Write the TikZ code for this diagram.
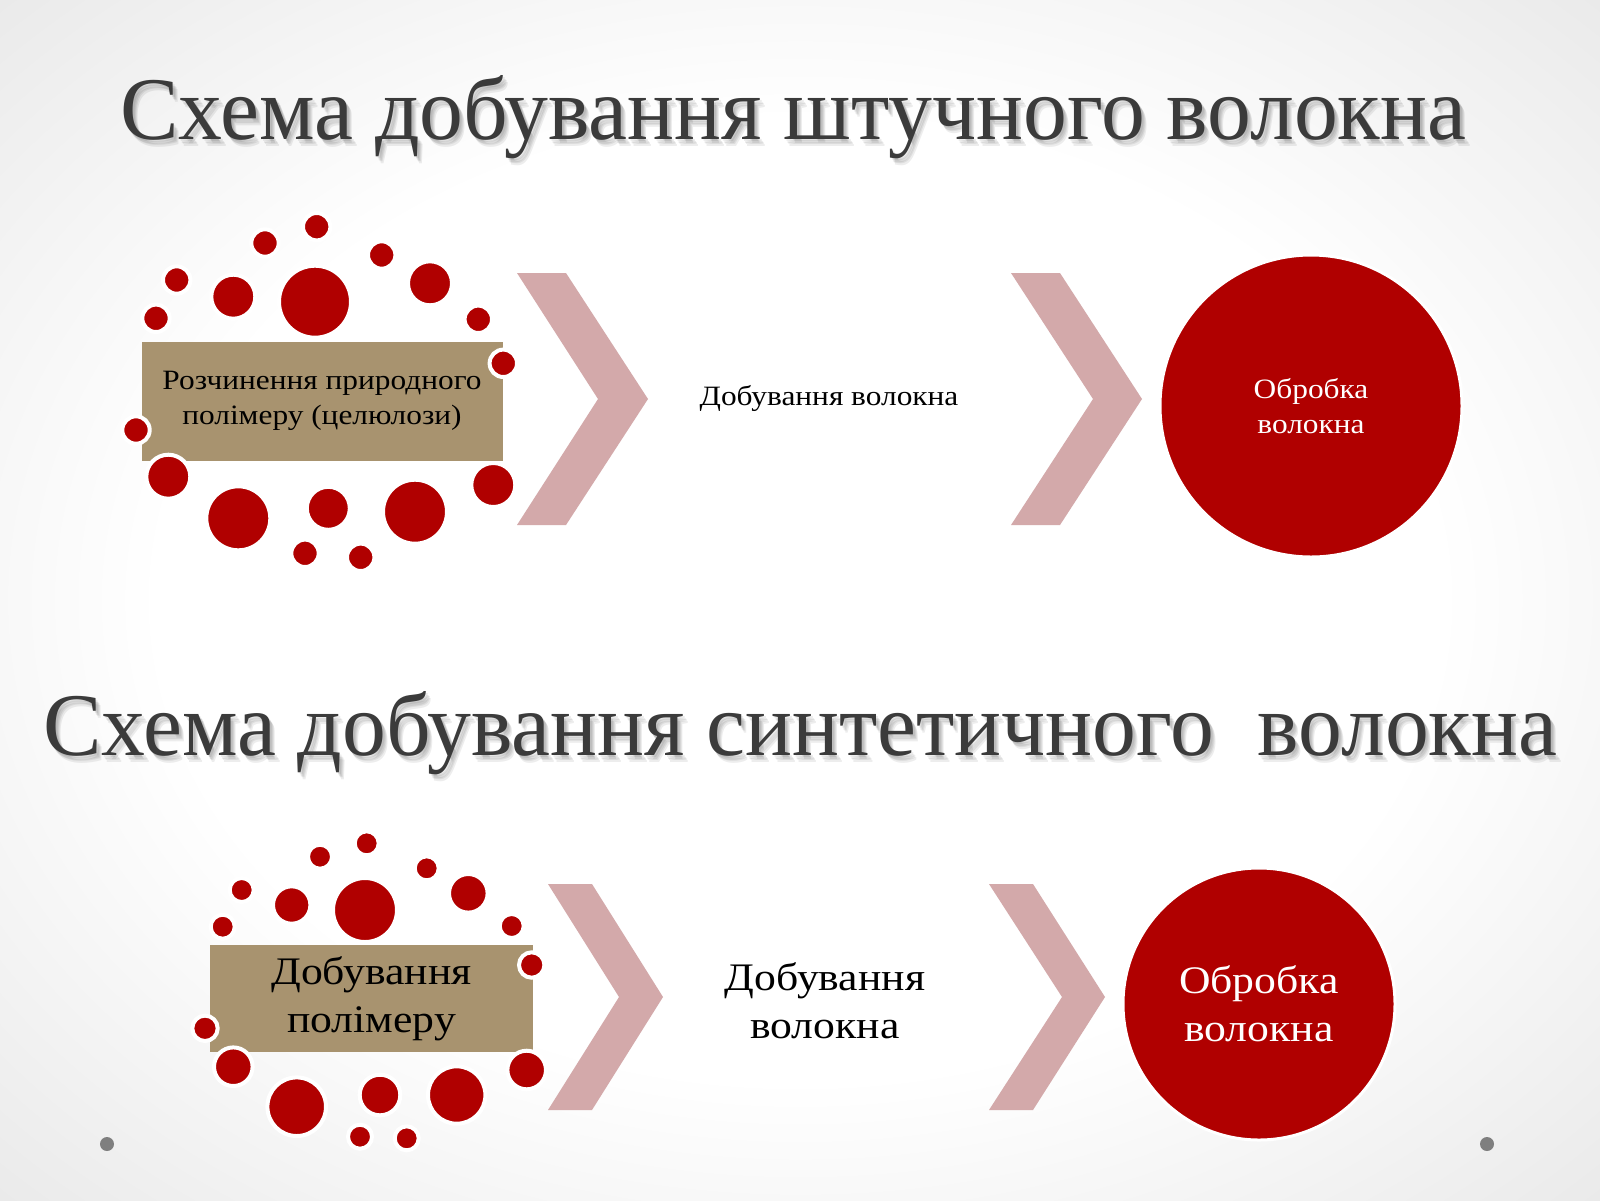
\documentclass[tikz,border=0pt]{standalone}
\usepackage{fontspec}
\usepackage{graphicx}
\setmainfont{Liberation Serif}
\newfontfamily\bodyfont[FakeStretch=1.12]{Liberation Serif}
\newfontfamily\titlefont{Liberation Serif}
\definecolor{dred}{HTML}{B00000}
\definecolor{chevc}{HTML}{D3A9AA}
\definecolor{boxc}{HTML}{A8936F}
\definecolor{titlec}{HTML}{3B3B3B}
\definecolor{bggray}{HTML}{D6D6D6}
\definecolor{dotgray}{HTML}{7F7F7F}
\pgfdeclareradialshading{bgshade}{\pgfpoint{0bp}{0bp}}{color(0bp)=(white); color(20bp)=(white); color(50bp)=(bggray)}
\newcommand{\titleone}{\resizebox{1346pt}{64pt}{Схема добування штучного волокна}}
\newcommand{\titletwo}{\resizebox{1513pt}{64pt}{Схема добування синтетичного\ \ волокна}}
\tikzset{
  dotc/.style={circle, fill=dred, draw=white, line width=4pt, inner sep=0pt},
  chev/.style={fill=chevc},
  titlet/.style={anchor=base west, inner sep=0pt, text=titlec, font=\titlefont},
  tshadow/.style={anchor=base west, inner sep=0pt, text=black, opacity=0.07, font=\titlefont},
  boxn/.style={fill=boxc, inner sep=0pt, align=center},
  bigc/.style={circle, fill=dred, draw=white, line width=3pt, inner sep=0pt, text=white, align=center},
  plaint/.style={inner sep=0pt, align=center},
  smallf/.style={font=\bodyfont\fontsize{28}{35}\selectfont},
  largef/.style={font=\bodyfont\fontsize{39}{48}\selectfont},
}
\begin{document}
\begin{tikzpicture}[x=1pt,y=-1pt]
\useasboundingbox (0,0) rectangle (1600,1200);
\shade[shading=bgshade] (0,0) rectangle (1600,1200);

% ---- titles (soft shadow made of faint copies)
\foreach \dx/\dy in {2/2, 3/4, 4/5, 5/7}{
  \node[tshadow] at (120+\dx,139+\dy) {\titleone};
  \node[tshadow] at (43+\dx,755+\dy) {\titletwo};
}
\node[titlet] (title1) at (120,139) {\titleone};
\node[titlet] (title2) at (43,755) {\titletwo};

% ---- top row
\node[boxn, smallf, minimum width=361pt, minimum height=119pt] (box1) at (322,401)
  {Розчинення природного\\полімеру (целюлози)};
\foreach \x/\y/\r [count=\i] in {316.7/226.7/11.7, 265/243/11.7, 381.7/255/11.7, 176.7/280/11.7,
  233.3/296.7/20, 315/301.7/34, 430/283.3/20, 156/318.3/11.7, 478.3/319.3/11.7, 503.3/363.3/11.7,
  136/430/11.7, 168.3/476.7/20, 238.3/518.3/30, 328.3/508.3/19.5, 415/511.7/30, 493.3/485/20,
  305/553.3/11.7, 360.7/557.3/11.7}
  \node[dotc, minimum size={2*\r pt+4pt}] (ta\i) at (\x,\y) {};

\fill[chev] (517,273) -- (566,273) -- (648,399) -- (566,525) -- (517,525) -- (598,399) -- cycle;
\node[plaint, smallf] (step1) at (829,398) {Добування волокна};
\fill[chev] (1011,273) -- (1060,273) -- (1142,399) -- (1060,525) -- (1011,525) -- (1093,399) -- cycle;
\node[bigc, smallf, minimum size=302pt] (proc1) at (1311,406) {Обробка\\волокна};

% ---- bottom row
\node[boxn, largef, minimum width=323pt, minimum height=107pt] (box2) at (371.5,998.5)
  {Добування\\полімеру};
\foreach \x/\y/\r [count=\i] in {366.7/843.3/10, 320/856.7/10, 426.7/868.3/10, 241.7/890/10,
  291.7/905/16.7, 365/910/30, 468.3/893.3/17.3, 222.7/926.7/10, 511.7/926/10, 531.7/965/10.7,
  205/1028.3/10.7, 233.3/1066.7/17.3, 296.7/1106.7/27.3, 380/1095/18.3, 456.7/1095/26.7,
  526.7/1070/17.3, 360/1136.7/10, 406.7/1138.3/10}
  \node[dotc, minimum size={2*\r pt+4pt}] (tb\i) at (\x,\y) {};

\fill[chev] (548,884) -- (592,884) -- (663,997) -- (592,1110) -- (548,1110) -- (619,997) -- cycle;
\node[plaint, largef] (step2) at (825,1001) {Добування\\волокна};
\fill[chev] (989,884) -- (1033,884) -- (1105,997) -- (1033,1110) -- (989,1110) -- (1062,997) -- cycle;
\node[bigc, largef, minimum size=272pt] (proc2) at (1259,1004) {Обробка\\волокна};

% ---- corner dots
\fill[dotgray] (107,1144) circle (7);
\fill[dotgray] (1487,1144) circle (7);
\end{tikzpicture}
\end{document}
